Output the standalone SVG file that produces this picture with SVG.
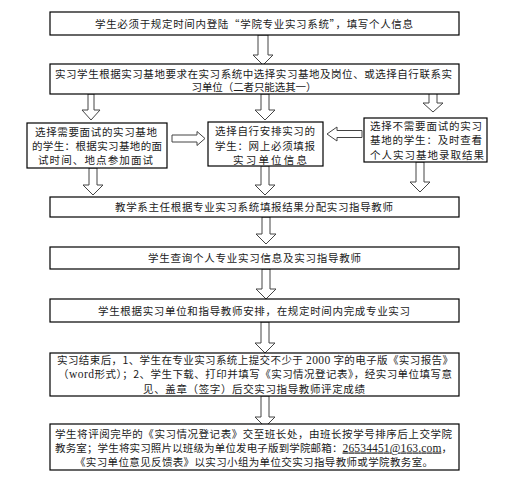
<svg xmlns="http://www.w3.org/2000/svg" width="515" height="483" viewBox="0 0 515 483">
<style>
.box{fill:#fff;stroke:#000;stroke-width:1.2}
.t{font-family:"Noto Sans CJK SC","Noto Sans CJK JP",sans-serif;font-size:10.5px;fill:#1a1a1a}
.m{text-anchor:middle}
.lat{font-family:"Liberation Serif","Times New Roman",serif;font-size:11.5px}
.arr{fill:#fff;stroke:#444;stroke-width:1}
</style>
<rect width="515" height="483" fill="#fff"/>
<g id="connectors">
<path class="arr" d="M258,35 V55 H253 L263,65 L273,55 H268 V35 Z"/>
<path class="arr" d="M88,94 V110 H82 L91,120 L100,110 H94 V94 Z"/>
<path class="arr" d="M261,94 V110 H255 L265,120 L275,110 H269 V94 Z"/>
<path class="arr" d="M429,92 V103 H423 L433,112 L443,103 H437 V92 Z"/>
<path class="arr" d="M172,135 H197 V131.5 L205,138.5 L197,145.5 V142 H172 Z"/>
<path class="arr" d="M362,130.5 H337 V127 L327,134 L337,141 V137.5 H362 Z"/>
<path class="arr" d="M89,168 V185 H83 L93,195 L103,185 H97 V168 Z"/>
<path class="arr" d="M261,166 V185 H255 L265,195 L275,185 H269 V166 Z"/>
<path class="arr" d="M416,162 V182 H410 L420,192 L430,182 H424 V162 Z"/>
<path class="arr" d="M262,217 V234 H256 L266,244 L276,234 H270 V217 Z"/>
<path class="arr" d="M262,269 V289 H256 L266,299 L276,289 H270 V269 Z"/>
<path class="arr" d="M261,322 V343 H255 L265,353 L275,343 H269 V322 Z"/>
<path class="arr" d="M261,396 V417 H255 L265,427 L275,417 H269 V396 Z"/>
</g>
<g id="n1">
<rect class="box" x="50" y="12" width="409" height="23"/>
<text class="t m" x="254" y="27.5" textLength="318" lengthAdjust="spacing">学生必须于规定时间内登陆“学院专业实习系统”，填写个人信息</text>
</g>
<g id="n2">
<rect class="box" x="50" y="64" width="409" height="30"/>
<text class="t" x="55" y="77.5" textLength="397" lengthAdjust="spacing">实习学生根据实习基地要求在实习系统中选择实习基地及岗位、或选择自行联系实</text>
<text class="t m" x="254" y="91" textLength="125" lengthAdjust="spacing">习单位（二者只能选其一）</text>
</g>
<g id="n3">
<rect class="box" x="27" y="123" width="140" height="45"/>
<text class="t" x="35" y="136" textLength="122" lengthAdjust="spacing">选择需要面试的实习基地</text>
<text class="t" x="32" y="149.5" textLength="130" lengthAdjust="spacing">的学生：根据实习基地的面</text>
<text class="t" x="38" y="164" textLength="115" lengthAdjust="spacing">试时间、地点参加面试</text>
</g>
<g id="n4">
<rect class="box" x="208" y="122" width="115" height="44"/>
<text class="t" x="215" y="135" textLength="100" lengthAdjust="spacing">选择自行安排实习的</text>
<text class="t" x="215" y="149.5" textLength="100" lengthAdjust="spacing">学生：网上必须填报</text>
<text class="t" x="233" y="164" textLength="74" lengthAdjust="spacing">实习单位信息</text>
</g>
<g id="n5">
<rect class="box" x="364" y="118" width="123" height="44"/>
<text class="t" x="370" y="129.5" textLength="112" lengthAdjust="spacing">选择不需要面试的实习</text>
<text class="t" x="370" y="144" textLength="112" lengthAdjust="spacing">基地的学生：及时查看</text>
<text class="t" x="370" y="159" textLength="114" lengthAdjust="spacing">个人实习基地录取结果</text>
</g>
<g id="n6">
<rect class="box" x="50" y="197" width="409" height="20"/>
<text class="t m" x="254" y="210.5" textLength="278" lengthAdjust="spacing">教学系主任根据专业实习系统填报结果分配实习指导教师</text>
</g>
<g id="n7">
<rect class="box" x="50" y="247" width="409" height="22"/>
<text class="t m" x="254.5" y="262" textLength="213" lengthAdjust="spacing">学生查询个人专业实习信息及实习指导教师</text>
</g>
<g id="n8">
<rect class="box" x="50" y="299" width="409" height="23"/>
<text class="t m" x="254" y="314.5" textLength="312" lengthAdjust="spacing">学生根据实习单位和指导教师安排，在规定时间内完成专业实习</text>
</g>
<g id="n9">
<rect class="box" x="50" y="353" width="409" height="43"/>
<text class="t" x="57" y="364" textLength="396" lengthAdjust="spacing">实习结束后，1、学生在专业实习系统上提交不少于 <tspan class="lat">2000</tspan> 字的电子版《实习报告》</text>
<text class="t" x="58" y="378" textLength="394" lengthAdjust="spacing">（<tspan class="lat">word</tspan>形式）；2、学生下载、打印并填写《实习情况登记表》，经实习单位填写意</text>
<text class="t m" x="254" y="393" textLength="222" lengthAdjust="spacing">见、盖章（签字）后交实习指导教师评定成绩</text>
</g>
<g id="n10">
<rect class="box" x="50" y="424" width="409" height="46"/>
<text class="t" x="55" y="438" textLength="397" lengthAdjust="spacing">学生将评阅完毕的《实习情况登记表》交至班长处，由班长按学号排序后上交学院</text>
<text class="t" x="55" y="451.5" textLength="397" lengthAdjust="spacing">教务室；学生将实习照片以班级为单位发电子版到学院邮箱：<tspan class="lat" text-decoration="underline">26534451@163.com</tspan>，</text>
<text class="t m" x="254" y="466" textLength="358" lengthAdjust="spacing">《实习单位意见反馈表》以实习小组为单位交实习指导教师或学院教务室。</text>
</g>
</svg>
